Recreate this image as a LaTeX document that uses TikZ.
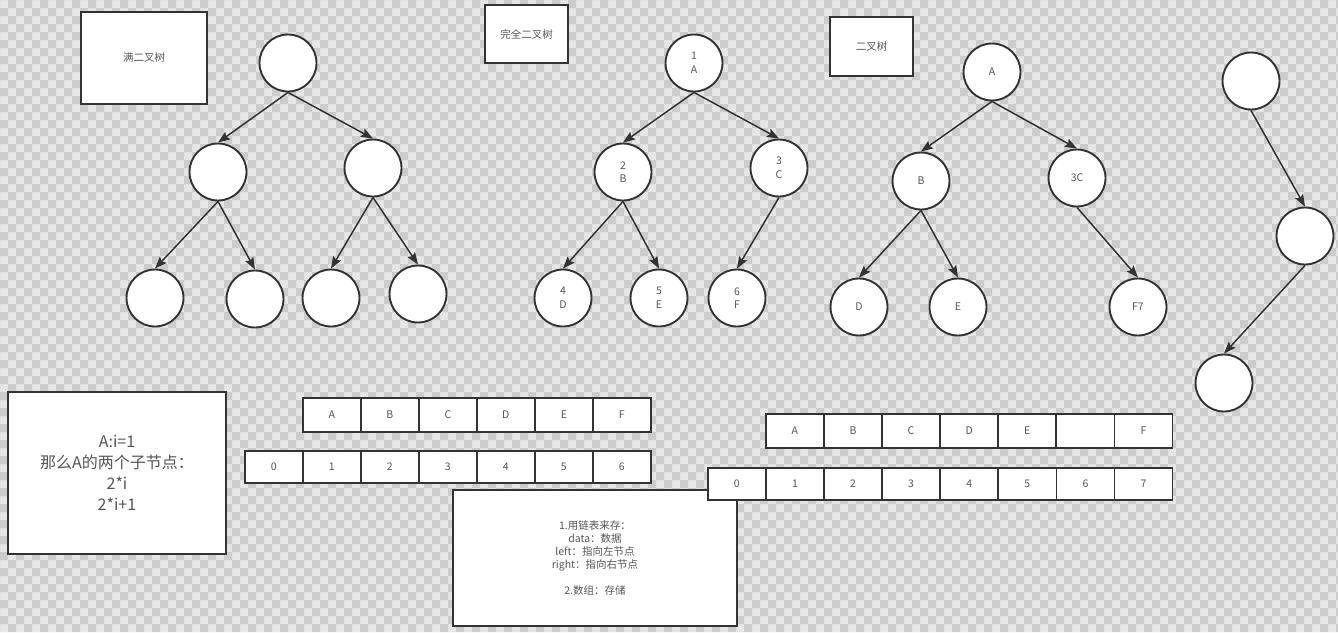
\documentclass[tikz,border=0pt]{standalone}
\usepackage{fontspec}
\setmainfont{Noto Sans CJK SC}
\usetikzlibrary{arrows.meta}
\definecolor{cklight}{HTML}{E6E6E6}
\definecolor{ckdark}{HTML}{CCCCCC}
\definecolor{ln}{HTML}{333333}
\definecolor{tx}{HTML}{555555}
\begin{document}
\begin{tikzpicture}[x=1pt,y=-1pt,
  circ/.style={circle, draw=ln, fill=white, line width=1.9pt, minimum size=57pt, inner sep=0pt, font=\fontsize{10.5}{13.5}\selectfont, text=tx, align=center},
  arr/.style={draw=ln, line width=1.5pt, -{Stealth[length=12pt,width=9pt,inset=2pt]}},
  titlebox/.style={draw=ln, fill=white, line width=2pt, inner sep=0pt, font=\fontsize{10.5}{12}\selectfont, text=tx},
  infobox/.style={draw=ln, fill=white, line width=2pt, inner sep=0pt, text=tx, align=center},
  cell/.style={draw=ln, fill=white, line width=1.7pt, minimum width=58pt, inner sep=0pt, font=\fontsize{10.5}{12}\selectfont, text=tx, anchor=north west},
]
\path[use as bounding box] (0,0) rectangle (1338,632);
% checkerboard background
\fill[cklight] (0,0) rectangle (1338,632);
\fill[ckdark, even odd rule]
  \foreach \i in {0,...,83} { ({16*\i},0) rectangle ({16*\i+8},632) }
  \foreach \j in {0,...,39} { (0,{16*\j}) rectangle (1338,{16*\j+8}) };

% title boxes
\node[titlebox, minimum width=126pt, minimum height=92pt] (t1) at (144,58) {满二叉树};
\node[titlebox, minimum width=83pt, minimum height=58pt] (t2) at (526.5,34) {完全二叉树};
\node[titlebox, minimum width=83pt, minimum height=59pt] (t3) at (871.5,46.5) {二叉树};

% full binary tree
\node[circ] (f1) at (288,63) {};
\node[circ] (f2) at (218,172) {};
\node[circ] (f3) at (373,168) {};
\node[circ] (f4) at (155,298) {};
\node[circ] (f5) at (255,299) {};
\node[circ] (f6) at (331,298) {};
\node[circ] (f7) at (418,294) {};
\draw[arr] (f1.south) -- (f2.north);
\draw[arr] (f1.south) -- (f3.north);
\draw[arr] (f2.south) -- (f4.north);
\draw[arr] (f2.south) -- (f5.north);
\draw[arr] (f3.south) -- (f6.north);
\draw[arr] (f3.south) -- (f7.north);

% complete binary tree
\node[circ] (c1) at (694,63) {1\\A};
\node[circ] (c2) at (623,172) {2\\B};
\node[circ] (c3) at (779,168) {3\\C};
\node[circ] (c4) at (563,298) {4\\D};
\node[circ] (c5) at (659,298) {5\\E};
\node[circ] (c6) at (737,298) {6\\F};
\draw[arr] (c1.south) -- (c2.north);
\draw[arr] (c1.south) -- (c3.north);
\draw[arr] (c2.south) -- (c4.north);
\draw[arr] (c2.south) -- (c5.north);
\draw[arr] (c3.south) -- (c6.north);

% binary tree
\node[circ] (b1) at (992,72) {A};
\node[circ] (b2) at (921,181) {B};
\node[circ] (b3) at (1077,178) {3C};
\node[circ] (b4) at (859,307) {D};
\node[circ] (b5) at (958,307) {E};
\node[circ] (b6) at (1138,307) {F7};
\draw[arr] (b1.south) -- (b2.north);
\draw[arr] (b1.south) -- (b3.north);
\draw[arr] (b2.south) -- (b4.north);
\draw[arr] (b2.south) -- (b5.north);
\draw[arr] (b3.south) -- (b6.north);

% right chain
\node[circ] (r1) at (1251,81) {};
\node[circ] (r2) at (1305,236) {};
\node[circ] (r3) at (1224,383) {};
\draw[arr] (r1.south) -- (r2.north);
\draw[arr] (r2.south) -- (r3.north);

% info boxes
\node[infobox, minimum width=218pt, minimum height=162pt, font=\fontsize{16}{21}\selectfont] (i1) at (117,473)
  {A:i=1\\那么A的两个子节点：\\2*i\\2*i+1};
\node[infobox, minimum width=284pt, minimum height=136pt, font=\fontsize{10.5}{13}\selectfont] (i2) at (595,558)
  {1.用链表来存：\\data：数据\\left：指向左节点\\right：指向右节点\\[13pt]2.数组：存储};

% arrays
\foreach \t [count=\k from 0] in {A,B,C,D,E,F}
  \node[cell, minimum height=34pt] (a\k) at ({302+58*\k},397) {\t};
\foreach \t [count=\k from 0] in {0,1,2,3,4,5,6}
  \node[cell, minimum height=32pt] (n\k) at ({244+58*\k},450) {\t};
\foreach \t [count=\k from 0] in {A,B,C,D,E,{},F}
  \node[cell, minimum height=34pt] (p\k) at ({765+58.1*\k},413) {\t};
\foreach \t [count=\k from 0] in {0,1,2,3,4,5,6,7}
  \node[cell, minimum height=32pt] (q\k) at ({707+58.1*\k},467) {\t};
\end{tikzpicture}
\end{document}
